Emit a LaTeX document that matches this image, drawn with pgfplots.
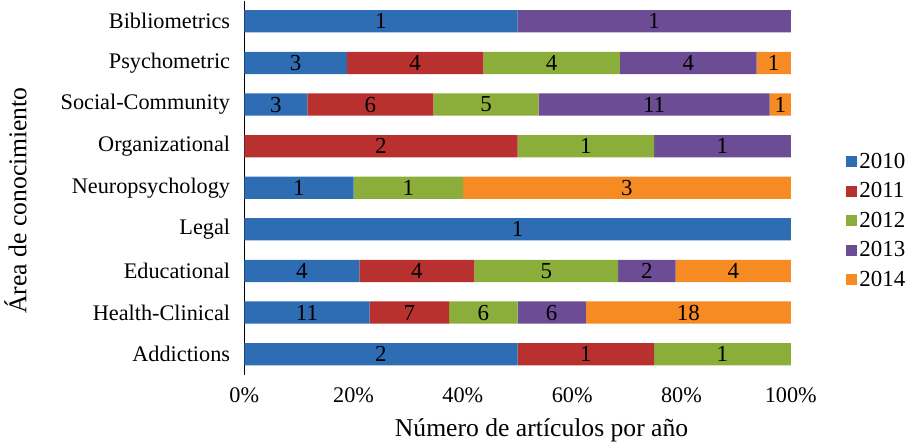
\documentclass[border=0pt]{standalone}
\usepackage{pgfplots}
\pgfplotsset{compat=1.18}
\usepackage{fontspec}
\setmainfont{Liberation Serif}

\definecolor{c2010}{HTML}{2E6DB4}
\definecolor{c2011}{HTML}{B8312F}
\definecolor{c2012}{HTML}{8BAE3A}
\definecolor{c2013}{HTML}{6C4D95}
\definecolor{c2014}{HTML}{F68B24}

\pgfplotsset{
  sq legend/.style={legend image code/.code={\fill[##1] (0pt,-4pt) rectangle (8pt,4pt);}},
}

\begin{document}
\begin{tikzpicture}
\begin{axis}[
    xbar stacked,
    scale only axis,
    width=405pt, height=277.5pt,
    bar width=16.5pt,
    xmin=0, xmax=100,
    ymin=-0.5, ymax=8.5,
    ytick={0,...,8},
    yticklabels={Addictions,Health-Clinical,Educational,Legal,Neuropsychology,Organizational,Social-Community,Psychometric,Bibliometrics},
    xtick={0,20,...,100},
    xticklabel={\pgfmathprintnumber{\tick}\%},
    /pgf/number format/assume math mode=true,
    axis lines*=left,
    x axis line style={draw=none},
    y axis line style={black, line width=0.8pt},
    tick style={draw=none},
    tick label style={font=\fontsize{16.5}{20}\selectfont},
    yticklabel style={xshift=-7pt},
    xticklabel style={yshift=-6pt},
    label style={font=\fontsize{19}{22}\selectfont},
    xlabel={Número de artículos por año},
    ylabel={Área de conocimiento},
    xlabel style={at={(axis description cs:0.544,-0.148)}, anchor=center},
    ylabel style={at={(axis description cs:-0.4185,0.466)}, anchor=center},
    legend style={at={(axis description cs:1.093,0.412)}, anchor=west, draw=none,
      font=\fontsize{17}{20}\selectfont, row sep=5pt},
    legend cell align=left,
    point meta=explicit symbolic,
    nodes near coords,
    every node near coord/.append style={anchor=center, text=black,
      font=\fontsize{17}{20}\selectfont},
]

% percentages of each row, count of articles as label
\addplot[fill=c2010, draw=none, sq legend] coordinates {
  (50,0) [2] (22.917,1) [11] (21.053,2) [4] (100,3) [1] (20,4) [1]
  (0,5) [] (11.538,6) [3] (18.75,7) [3] (50,8) [1]
};
\addlegendentry{2010}

\addplot[fill=c2011, draw=none, sq legend] coordinates {
  (25,0) [1] (14.583,1) [7] (21.053,2) [4] (0,3) [] (0,4) []
  (50,5) [2] (23.077,6) [6] (25,7) [4] (0,8) []
};
\addlegendentry{2011}

\addplot[fill=c2012, draw=none, sq legend] coordinates {
  (25,0) [1] (12.5,1) [6] (26.316,2) [5] (0,3) [] (20,4) [1]
  (25,5) [1] (19.231,6) [5] (25,7) [4] (0,8) []
};
\addlegendentry{2012}

\addplot[fill=c2013, draw=none, sq legend] coordinates {
  (0,0) [] (12.5,1) [6] (10.526,2) [2] (0,3) [] (0,4) []
  (25,5) [1] (42.308,6) [11] (25,7) [4] (50,8) [1]
};
\addlegendentry{2013}

\addplot[fill=c2014, draw=none, sq legend] coordinates {
  (0,0) [] (37.5,1) [18] (21.052,2) [4] (0,3) [] (60,4) [3]
  (0,5) [] (3.846,6) [1] (6.25,7) [1] (0,8) []
};
\addlegendentry{2014}

\end{axis}
\end{tikzpicture}
\end{document}
